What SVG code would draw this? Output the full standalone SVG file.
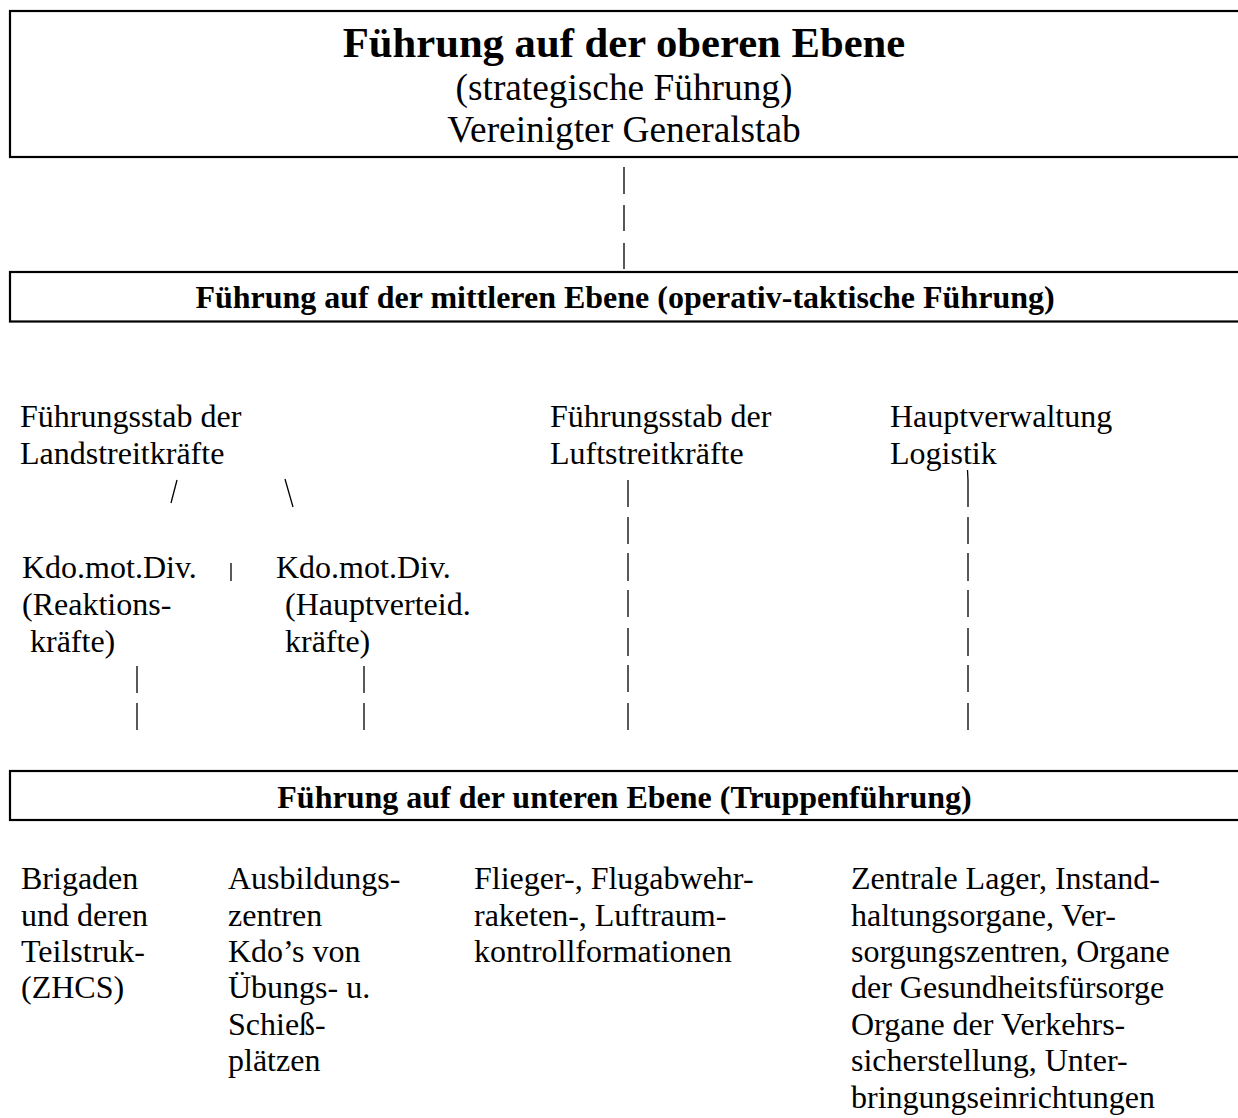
<svg xmlns="http://www.w3.org/2000/svg" width="1238" height="1118" viewBox="0 0 1238 1118">
<style>
.t{font-family:"Liberation Serif","Times New Roman",serif;fill:#000;font-size:32px}
.b{font-weight:bold}
.c{text-anchor:middle}
.box{fill:#fff;stroke:#000;stroke-width:2.2}
.ln{stroke:#000;stroke-width:1.3;fill:none}
</style>
<rect width="1238" height="1118" fill="#fff"/>
<g id="top-level">
<rect class="box" x="10" y="11" width="1250" height="146"/>
<text class="t b c" x="624" y="57" style="font-size:42.67px">Führung auf der oberen Ebene</text>
<text class="t c" x="624" y="100" style="font-size:37.33px">(strategische Führung)</text>
<text class="t c" x="624" y="142" style="font-size:37.33px">Vereinigter Generalstab</text>
</g>
<g id="middle-level">
<rect class="box" x="10" y="272" width="1250" height="49.5"/>
<text class="t b c" x="625" y="308">Führung auf der mittleren Ebene (operativ-taktische Führung)</text>
</g>
<g id="land">
<text class="t" x="20" y="427">Führungsstab der</text>
<text class="t" x="20" y="464">Landstreitkräfte</text>
</g>
<g id="luft">
<text class="t" x="550" y="427">Führungsstab der</text>
<text class="t" x="550" y="464">Luftstreitkräfte</text>
</g>
<g id="logistik">
<text class="t" x="890" y="427">Hauptverwaltung</text>
<text class="t" x="890" y="464">Logistik</text>
</g>
<g id="div-reaktion">
<text class="t" x="22" y="578">Kdo.mot.Div.</text>
<text class="t" x="22" y="615">(Reaktions-</text>
<text class="t" x="30" y="652">kräfte)</text>
</g>
<g id="div-haupt">
<text class="t" x="276" y="578">Kdo.mot.Div.</text>
<text class="t" x="285" y="615">(Hauptverteid.</text>
<text class="t" x="285" y="652">kräfte)</text>
</g>
<g id="lower-level">
<rect class="box" x="10" y="771" width="1250" height="49"/>
<text class="t b c" x="624.5" y="808">Führung auf der unteren Ebene (Truppenführung)</text>
</g>
<g id="brigaden">
<text class="t" x="21" y="889">Brigaden</text>
<text class="t" x="21" y="925.5">und deren</text>
<text class="t" x="21" y="962">Teilstruk-</text>
<text class="t" x="21" y="998">(ZHCS)</text>
</g>
<g id="ausbildung">
<text class="t" x="228" y="889">Ausbildungs-</text>
<text class="t" x="228" y="925.5">zentren</text>
<text class="t" x="228" y="962">Kdo’s von</text>
<text class="t" x="228" y="998">Übungs- u.</text>
<text class="t" x="228" y="1034.5">Schieß-</text>
<text class="t" x="228" y="1071">plätzen</text>
</g>
<g id="flieger">
<text class="t" x="474" y="889">Flieger-, Flugabwehr-</text>
<text class="t" x="474" y="925.5">raketen-, Luftraum-</text>
<text class="t" x="474" y="962">kontrollformationen</text>
</g>
<g id="zentrale">
<text class="t" x="851" y="889">Zentrale Lager, Instand-</text>
<text class="t" x="851" y="925.5">haltungsorgane, Ver-</text>
<text class="t" x="851" y="962">sorgungszentren, Organe</text>
<text class="t" x="851" y="998">der Gesundheitsfürsorge</text>
<text class="t" x="851" y="1034.5">Organe der Verkehrs-</text>
<text class="t" x="851" y="1071">sicherstellung, Unter-</text>
<text class="t" x="851" y="1107.5">bringungseinrichtungen</text>
</g>
<g id="connectors">
<path class="ln" d="M624 167V194M624 205V231M624 243V269"/>
<path class="ln" d="M177 480L171 503M285 479L293 507"/>
<path class="ln" d="M231 563V581"/>
<path class="ln" d="M137 666V693M137 703V730"/>
<path class="ln" d="M364 666V693M364 703V730"/>
<path class="ln" d="M628 480V507M628 517V544M628 553V581M628 590V617M628 628V656M628 665V692M628 703V730"/>
<path class="ln" d="M967.5 470L968 480V507M968 517V544M968 553V581M968 590V617M968 628V656M968 665V692M968 703V730"/>
</g>
</svg>
